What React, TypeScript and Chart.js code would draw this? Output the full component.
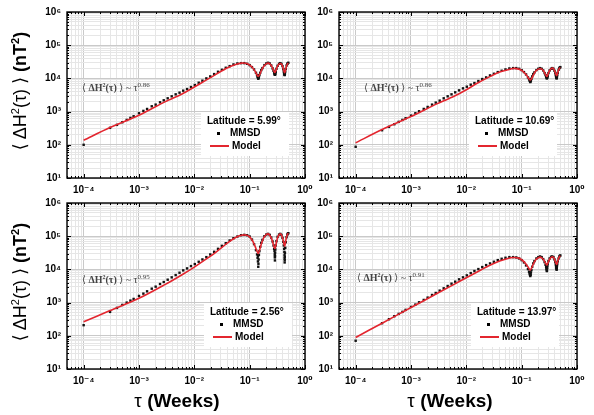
import React, { useEffect, useRef } from "react";
import { Chart, registerables } from "chart.js";
Chart.register(...registerables);

// ---- data (tau in weeks, MMSD in nT^2) ----
const tauData = [
  0.0001, 0.0003, 0.0004, 0.0005, 0.0006, 0.0007, 0.0008, 0.001, 0.0012, 0.0014,
  0.0017, 0.002, 0.0024, 0.0028, 0.0033, 0.0039, 0.0046, 0.0054, 0.0063, 0.0074,
  0.0087, 0.0102, 0.012, 0.014, 0.0165, 0.0194, 0.0228, 0.0268, 0.0315, 0.037,
  0.0435, 0.051, 0.06, 0.07, 0.08, 0.09, 0.1, 0.11, 0.12, 0.13,
  0.136, 0.139, 0.141, 0.142, 0.143, 0.144, 0.145, 0.147, 0.15, 0.155,
  0.162, 0.17, 0.185, 0.2, 0.215, 0.23, 0.245, 0.26, 0.27, 0.277,
  0.281, 0.284, 0.285, 0.286, 0.287, 0.288, 0.291, 0.296, 0.305, 0.32,
  0.34, 0.357, 0.375, 0.392, 0.405, 0.414, 0.42, 0.424, 0.427, 0.428,
  0.429, 0.43, 0.431, 0.434, 0.44, 0.45, 0.465, 0.48, 0.49, 0.5,
];

const tauModel = [
  0.0001, 0.0003, 0.001, 0.003, 0.006, 0.01, 0.016, 0.025, 0.04, 0.056,
  0.071, 0.089, 0.1, 0.112, 0.125, 0.135, 0.143, 0.152, 0.165, 0.18,
  0.2, 0.215, 0.23, 0.25, 0.265, 0.278, 0.286, 0.295, 0.31, 0.33,
  0.357, 0.38, 0.4, 0.415, 0.429, 0.44, 0.46, 0.48, 0.5,
];

const mmsdLat599 = [
  100, 324, 398, 479, 562, 646, 724, 891, 1050, 1200,
  1445, 1622, 1905, 2188, 2512, 2884, 3311, 3715, 4266, 4786,
  5495, 6310, 7413, 8511, 10000, 11480, 13490, 15850, 18200, 20890,
  23440, 26300, 28180, 28840, 28840, 27540, 25120, 21880, 18620, 14790,
  12590, 11220, 10470, 12020, 9772, 10960, 10230, 11480, 12590, 14790,
  17780, 20420, 25120, 28180, 29510, 28180, 24550, 19950, 16980, 15140,
  14130, 13180, 14450, 12880, 13800, 13180, 14130, 15850, 19500, 23990,
  27540, 28840, 27540, 23440, 19050, 16220, 14790, 13800, 12880, 14130,
  12590, 13490, 13180, 14130, 16220, 19500, 24550, 27540, 28840, 29510,
];
const modelLat599 = [
  138, 331, 776, 1995, 3388, 5495, 8710, 13490, 20890, 26300,
  28840, 28200, 25100, 21400, 16600, 12900, 11500, 13200, 18200, 23400,
  27500, 28800, 27500, 23400, 19100, 15800, 15100, 16600, 20900, 25700,
  28200, 26300, 21400, 16600, 14800, 16600, 22400, 26900, 28800,
];

const mmsdLat1069 = [
  87, 275, 347, 417, 490, 562, 631, 759, 891, 1023,
  1202, 1380, 1622, 1862, 2138, 2512, 2884, 3311, 3802, 4365,
  5012, 5623, 6457, 7244, 8318, 9550, 10720, 12300, 13800, 15490,
  16980, 18620, 19950, 20420, 20420, 19500, 17780, 15490, 13180, 10720,
  9550, 8710, 8318, 9120, 7762, 8511, 8128, 8913, 9772, 11480,
  13490, 15140, 17780, 19500, 20420, 19500, 17380, 14450, 12590, 11480,
  10960, 10230, 11220, 10000, 10720, 10470, 10960, 12020, 14450, 17380,
  19500, 20420, 19500, 16980, 14450, 12590, 11480, 10960, 10230, 11220,
  10000, 10720, 10470, 11220, 12590, 14790, 18200, 20420, 21380, 21880,
];
const modelLat1069 = [
  115, 288, 708, 1738, 2884, 4571, 7244, 10720, 15490, 18200,
  19950, 19050, 17380, 14790, 12020, 9772, 8913, 10000, 13180, 16600,
  19050, 19950, 19050, 16600, 13800, 12020, 11480, 12590, 15490, 18620,
  20420, 19050, 15850, 13180, 12020, 13180, 16980, 19950, 21380,
];

const mmsdLat256 = [
  209, 525, 692, 851, 1000, 1148, 1288, 1585, 1862, 2188,
  2630, 3020, 3631, 4169, 4898, 5754, 6761, 7943, 9333, 10720,
  12590, 14450, 16980, 19950, 23440, 28180, 33880, 41690, 51290, 61660,
  74130, 87100, 97720, 107200, 109600, 107200, 97720, 79430, 57540, 38020,
  28180, 22390, 17380, 25120, 12020, 14790, 19950, 27540, 35480, 47860,
  63100, 77620, 100000, 112200, 117500, 109600, 91200, 69180, 52480, 41690,
  35480, 28180, 22910, 18620, 25120, 31620, 39810, 52480, 70790, 95500,
  112200, 117500, 109600, 89130, 67610, 52480, 41690, 33880, 26920, 21380,
  16220, 19050, 23990, 31620, 44670, 66070, 93330, 112200, 120200, 123000,
];
const modelLat256 = [
  263, 575, 1349, 3548, 6918, 11750, 19950, 33880, 63100, 91200,
  107200, 107200, 95500, 74130, 50120, 36310, 30200, 39810, 63100, 91200,
  112200, 117500, 107200, 83180, 60260, 46770, 42660, 50120, 75860, 102300,
  117500, 104700, 79430, 58880, 50120, 60260, 89130, 112200, 123000,
];

const mmsdLat1397 = [
  71, 240, 316, 389, 457, 525, 603, 741, 871, 1023,
  1202, 1413, 1698, 1950, 2291, 2692, 3162, 3715, 4266, 5012,
  5754, 6607, 7762, 8913, 10230, 11750, 13490, 15140, 16980, 19050,
  20890, 22390, 23440, 23440, 22910, 21380, 19050, 16220, 13180, 10230,
  8511, 7586, 6918, 7943, 6310, 7244, 6761, 8128, 9550, 12020,
  15140, 17780, 21380, 23440, 24550, 23440, 20420, 16600, 13800, 11750,
  10470, 9333, 10720, 8913, 10000, 11220, 12590, 14450, 17780, 21380,
  23990, 24550, 23440, 19950, 16600, 14130, 12590, 11480, 10230, 10960,
  9772, 10720, 11480, 12590, 14450, 17380, 21380, 24550, 25700, 26300,
];
const modelLat1397 = [
  89, 240, 708, 1905, 3548, 5623, 8511, 12590, 17780, 21380,
  22910, 21880, 19500, 16600, 13180, 10720, 9550, 11220, 15140, 19500,
  22390, 23440, 22390, 19500, 16220, 14130, 13490, 14790, 18200, 21880,
  23990, 22390, 18620, 15490, 14130, 15850, 20420, 23990, 25700,
];

const latitudes = ["5.99", "10.69", "2.56", "13.97"];
const exponents = ["0.86", "0.86", "0.95", "0.91"];

const xMajorTicks = [1e-4, 1e-3, 1e-2, 1e-1, 1];
const xMajorLabels = ["10\u207B\u2074", "10\u207B\u00B3", "10\u207B\u00B2", "10\u207B\u00B9", "10\u2070"];
const yMajorTicks = [10, 100, 1000, 10000, 100000, 1000000];
const yMajorLabels = ["10\u00B9", "10\u00B2", "10\u00B3", "10\u2074", "10\u2075", "10\u2076"];
const xRange = [5e-5, 1];
const yRange = [10, 1e6];

// ---- layout ----
const SANS = '"Liberation Sans", Arial, "DejaVu Sans", sans-serif';
const SERIF = '"Liberation Serif", "DejaVu Serif", serif';

const panels = [
  { mmsd: mmsdLat599, model: modelLat599, left: 0, top: 0, w: 320, h: 200, padTop: 12, padRight: 15, yW: 67, xH: 22, annot: [82, 88], legend: [207, 121] },
  { mmsd: mmsdLat1069, model: modelLat1069, left: 300, top: 0, w: 294, h: 200, padTop: 12, padRight: 17, yW: 39, xH: 22, annot: [364, 88], legend: [475, 121] },
  { mmsd: mmsdLat256, model: modelLat256, left: 0, top: 190, w: 320, h: 225, padTop: 13, padRight: 15, yW: 67, xH: 46, annot: [82, 280], legend: [210, 312] },
  { mmsd: mmsdLat1397, model: modelLat1397, left: 300, top: 190, w: 294, h: 225, padTop: 13, padRight: 17, yW: 39, xH: 46, annot: [357, 278], legend: [477, 312] },
];

function isPow10(v: number) {
  const l = Math.log10(v);
  return Math.abs(l - Math.round(l)) < 1e-6;
}

function buildLogTicks(min: number, max: number) {
  const out: { value: number; major: boolean }[] = [];
  for (let e = Math.floor(Math.log10(min)); e <= Math.ceil(Math.log10(max)); e++) {
    for (let m = 1; m <= 9; m++) {
      const v = m * Math.pow(10, e);
      if (v >= min * 0.999999 && v <= max * 1.000001) out.push({ value: v, major: m === 1 });
    }
  }
  return out;
}

function labelFor(v: number, ticks: number[], labels: string[]) {
  const i = ticks.findIndex((t) => Math.abs(t - v) / t < 1e-6);
  return i >= 0 ? labels[i] : "";
}

const framePlugin = {
  id: "frame",
  afterDraw(chart: any) {
    const { ctx, chartArea } = chart;
    const { left, top, right, bottom } = chartArea;
    const xs = chart.scales.x;
    const ys = chart.scales.y;
    ctx.save();
    ctx.strokeStyle = "#000";
    ctx.lineWidth = 1;
    ctx.beginPath();
    xs.ticks.forEach((t: any) => {
      const p = Math.round(xs.getPixelForValue(t.value)) + 0.5;
      const L = isPow10(t.value) ? 4 : 2;
      ctx.moveTo(p, bottom);
      ctx.lineTo(p, bottom - L);
      ctx.moveTo(p, top);
      ctx.lineTo(p, top + L);
    });
    ys.ticks.forEach((t: any) => {
      const p = Math.round(ys.getPixelForValue(t.value)) + 0.5;
      const L = isPow10(t.value) ? 4 : 2;
      ctx.moveTo(left, p);
      ctx.lineTo(left + L, p);
      ctx.moveTo(right, p);
      ctx.lineTo(right - L, p);
    });
    ctx.stroke();
    ctx.lineWidth = 1.4;
    ctx.strokeRect(left, top, right - left, bottom - top);
    ctx.restore();
  },
};

function gridColor(c: any) {
  const v = c.tick ? c.tick.value : 0;
  return v && isPow10(v) ? "#c9c9c9" : "#e6e6e6";
}

function Panel({ cfg }: { cfg: any }) {
  const ref = useRef<HTMLCanvasElement | null>(null);
  useEffect(() => {
    if (!ref.current) return;
    const chart = new Chart(ref.current, {
      type: "scatter",
      data: {
        datasets: [
          {
            label: "Model",
            data: tauModel.map((t, i) => ({ x: t, y: cfg.model[i] })),
            showLine: true,
            borderColor: "#e3262f",
            backgroundColor: "#e3262f",
            borderWidth: 1.6,
            pointRadius: 0,
            tension: 0.3,
            fill: false,
          } as any,
          {
            label: "MMSD",
            data: tauData.map((t, i) => ({ x: t, y: cfg.mmsd[i] })),
            showLine: false,
            pointStyle: "rect",
            pointRadius: 1.7,
            backgroundColor: "#111",
            borderWidth: 0,
          } as any,
        ],
      },
      options: {
        animation: false,
        responsive: false,
        devicePixelRatio: 1,
        events: [],
        layout: { padding: { left: 0, top: cfg.padTop, right: cfg.padRight, bottom: 0 } },
        plugins: { legend: { display: false }, tooltip: { enabled: false } },
        scales: {
          x: {
            type: "logarithmic",
            min: xRange[0],
            max: xRange[1],
            position: "bottom",
            afterBuildTicks: (s: any) => {
              s.ticks = buildLogTicks(xRange[0], xRange[1]);
            },
            afterFit: (s: any) => {
              s.height = cfg.xH;
              s.paddingLeft = 0;
              s.paddingRight = 0;
            },
            ticks: {
              autoSkip: false,
              maxRotation: 0,
              minRotation: 0,
              padding: 6,
              color: "#000",
              font: { family: SANS, size: 10, weight: "bold" },
              callback: (v: any) => labelFor(Number(v), xMajorTicks, xMajorLabels),
            },
            grid: { color: gridColor, drawTicks: false, lineWidth: 1 },
            border: { display: false },
          },
          y: {
            type: "logarithmic",
            min: yRange[0],
            max: yRange[1],
            position: "left",
            afterBuildTicks: (s: any) => {
              s.ticks = buildLogTicks(yRange[0], yRange[1]);
            },
            afterFit: (s: any) => {
              s.width = cfg.yW;
              s.paddingTop = 0;
              s.paddingBottom = 0;
            },
            ticks: {
              autoSkip: false,
              padding: 6,
              color: "#000",
              font: { family: SANS, size: 10, weight: "bold" },
              callback: (v: any) => labelFor(Number(v), yMajorTicks, yMajorLabels),
            },
            grid: { color: gridColor, drawTicks: false, lineWidth: 1 },
            border: { display: false },
          },
        },
      } as any,
      plugins: [framePlugin],
    });
    return () => chart.destroy();
  }, []);
  return (
    <canvas
      ref={ref}
      width={cfg.w}
      height={cfg.h}
      style={{ position: "absolute", left: cfg.left, top: cfg.top, width: cfg.w, height: cfg.h }}
    />
  );
}

function Legend({ x, y, lat }: { x: number; y: number; lat: string }) {
  const txt: React.CSSProperties = {
    position: "absolute",
    fontFamily: SANS,
    fontSize: 10,
    fontWeight: "bold",
    lineHeight: "12px",
    whiteSpace: "nowrap",
    color: "#000",
  };
  return (
    <>
      <div style={{ position: "absolute", left: x - 6, top: y - 9, width: 88, height: 44, background: "#fff" }} />
      <div style={{ ...txt, left: x, top: y - 6 }}>Latitude = {lat}°</div>
      <div style={{ position: "absolute", left: x + 10, top: y + 12 - 1.5, width: 3, height: 3, background: "#000" }} />
      <div style={{ ...txt, left: x + 23, top: y + 12 - 6 }}>MMSD</div>
      <div style={{ position: "absolute", left: x + 3, top: y + 25 - 1, width: 19, height: 2, background: "#e3262f" }} />
      <div style={{ ...txt, left: x + 25, top: y + 25 - 6 }}>Model</div>
    </>
  );
}

function Annotation({ x, y, exp }: { x: number; y: number; exp: string }) {
  return (
    <div
      style={{
        position: "absolute",
        left: x,
        top: y - 6,
        fontFamily: SERIF,
        fontSize: 10,
        lineHeight: "12px",
        color: "#444",
        whiteSpace: "nowrap",
      }}
    >
      {"\u27E8 "}
      <b>
        ΔH<sup style={{ fontSize: 6, lineHeight: 0 }}>2</sup>(τ)
      </b>
      {" \u27E9 ~ τ"}
      <sup style={{ fontSize: 7, lineHeight: 0 }}>{exp}</sup>
    </div>
  );
}

function YTitle({ cy }: { cy: number }) {
  return (
    <div
      style={{
        position: "absolute",
        left: 20,
        top: cy,
        transform: "translate(-50%, -50%) rotate(-90deg)",
        fontFamily: SANS,
        fontSize: 18,
        lineHeight: "20px",
        whiteSpace: "nowrap",
        color: "#000",
      }}
    >
      {"\u27E8 ΔH"}
      <sup style={{ fontSize: 11, lineHeight: 0 }}>2</sup>
      {"(τ) \u27E9 "}
      <b>
        (nT<sup style={{ fontSize: 11, lineHeight: 0 }}>2</sup>)
      </b>
    </div>
  );
}

function XTitle({ cx }: { cx: number }) {
  return (
    <div
      style={{
        position: "absolute",
        left: cx,
        top: 401,
        transform: "translate(-50%, -50%)",
        fontFamily: SANS,
        fontSize: 19,
        lineHeight: "22px",
        whiteSpace: "nowrap",
        color: "#000",
      }}
    >
      τ <b>(Weeks)</b>
    </div>
  );
}

export default function App() {
  return (
    <div
      style={{
        position: "fixed",
        left: 0,
        top: 0,
        width: 594,
        height: 415,
        background: "#fff",
        overflow: "hidden",
      }}
    >
      {panels.map((p, i) => (
        <Panel key={i} cfg={p} />
      ))}
      {panels.map((p, i) => (
        <Annotation key={"a" + i} x={p.annot[0]} y={p.annot[1]} exp={exponents[i]} />
      ))}
      {panels.map((p, i) => (
        <Legend key={"l" + i} x={p.legend[0]} y={p.legend[1]} lat={latitudes[i]} />
      ))}
      <YTitle cy={91} />
      <YTitle cy={282} />
      <XTitle cx={177} />
      <XTitle cx={450} />
    </div>
  );
}
